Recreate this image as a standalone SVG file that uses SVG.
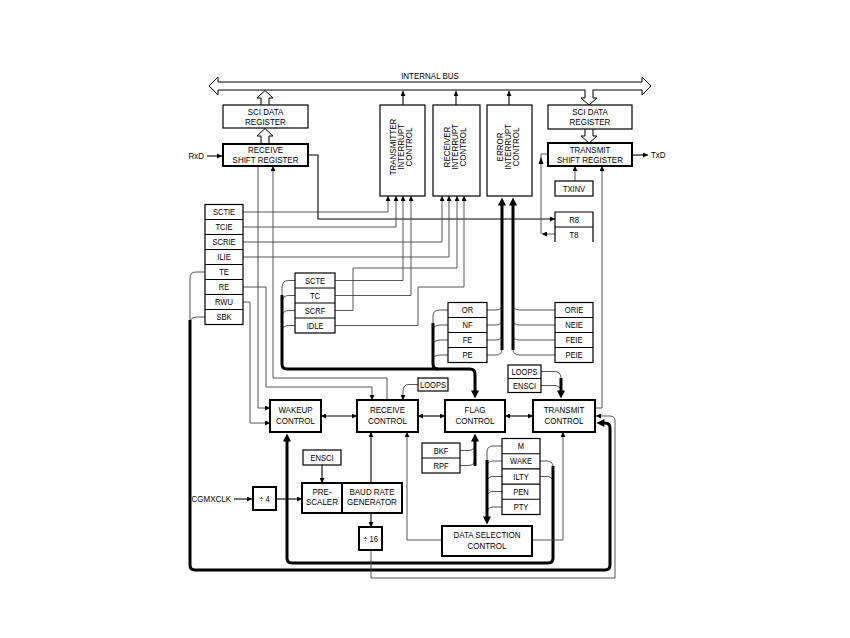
<svg xmlns="http://www.w3.org/2000/svg" width="850" height="638" viewBox="0 0 850 638">
<defs>
<marker id="a" viewBox="0 0 10 10" refX="10" refY="5" markerWidth="8" markerHeight="5" markerUnits="userSpaceOnUse" orient="auto-start-reverse"><path d="M0,0 L10,5 L0,10 z" fill="#000"/></marker>
<marker id="at" viewBox="0 0 10 10" refX="3" refY="5" markerWidth="10" markerHeight="8" markerUnits="userSpaceOnUse" orient="auto-start-reverse"><path d="M0,0 L10,5 L0,10 z" fill="#000"/></marker>
</defs>
<style>
.b{fill:#fff;stroke:#000;stroke-width:1.2}
.bb{fill:#fff;stroke:#000;stroke-width:2}
.l{fill:none;stroke:#444;stroke-width:0.9}
.lk{fill:none;stroke:#000;stroke-width:1.1}
.k{fill:none;stroke:#000;stroke-width:3}
.h{fill:#fff;stroke:#000;stroke-width:1}
.ar{marker-end:url(#a)}
.art{marker-end:url(#at)}
.dbl{marker-start:url(#a);marker-end:url(#a)}
text{font-family:"Liberation Sans",Arial,sans-serif;font-size:9.5px;text-anchor:middle;fill:#000;transform-box:fill-box;transform-origin:center;transform:scaleX(0.84)}
.s{font-size:9px}
.st{text-anchor:start;transform-origin:left center}
.en{text-anchor:end;transform-origin:right center}
</style>
<rect width="850" height="638" fill="#fff"/>

<g id="internal-bus">
<path class="h" d="M218,82 H642 V77 L651,86 L642,95 V90 H218 V95 L209,86 L218,77 Z"/>
<text x="430" y="79">INTERNAL BUS</text>
</g>

<g id="connectors">
<path class="h" d="M261,105 V98 H257 L265,90.5 L273,98 H269 V105"/>
<path class="h" d="M261,144 V136 H257 L265,128.5 L273,136 H269 V144"/>
<path fill="#fff" d="M585.5,89 V98 H592.5 V89 Z"/>
<path class="h" d="M585,90 V98 H581 L589,105 L597,98 H593 V90"/>
<path class="h" d="M585,129 V136 H581 L589,143 L597,136 H593 V129"/>
<path class="lk ar" d="M403,105 V91"/>
<path class="lk ar" d="M456,105 V91"/>
<path class="lk ar" d="M509,105 V91"/>
<path class="lk ar" d="M207,156 H222"/>
<path class="lk ar" d="M632,155 H648"/>
<path class="lk ar" d="M308,155 H318 V219 H555"/>
<path class="l ar" d="M555,234 H542"/>
<path class="l" d="M541,234 V154 H548"/>
<path d="M538.5,164 L541,157 L543.5,164 z" fill="#000"/>
<path class="l ar" d="M575,181 V166"/>
<path class="l ar" d="M595,408 H602 V166"/>
<path class="l ar" d="M243,212 H388 V196"/>
<path class="l ar" d="M243,227 H396 V196"/>
<path class="l ar" d="M243,242 H442 V196"/>
<path class="l ar" d="M243,257 H449 V196"/>
<path class="l ar" d="M335,280.5 H403 V196"/>
<path class="l ar" d="M335,295.5 H411 V196"/>
<path class="l ar" d="M335,310.5 H353 V268 H457 V196"/>
<path class="l ar" d="M335,325.5 H418 V287 H464 V196"/>
<path class="l" d="M487,310 H496 Q502,310 502,304 M487,325 H496 Q502,325 502,319 M487,340 H496 Q502,340 502,334 M487,355 H496 Q502,355 502,349"/>
<path class="k art" d="M502,350 V203"/>
<path class="l" d="M555,310 H519 Q513,310 513,304 M555,325 H519 Q513,325 513,319 M555,340 H519 Q513,340 513,334 M555,355 H519 Q513,355 513,349"/>
<path class="k art" d="M513,350 V203"/>
<path class="l" d="M295,280.5 H289 Q282,280.5 282,287 M295,295.5 H289 Q282,295.5 282,302 M295,310.5 H289 Q282,310.5 282,317 M295,325.5 H289 Q282,325.5 282,332 M282,287 V296"/>
<path class="l" d="M448,310 H440 Q433,310 433,316 M448,325 H440 Q433,325 433,331 M448,340 H440 Q433,340 433,346 M448,355 H440 Q433,355 433,361 M433,316 V324"/>
<path class="k" d="M433,323 V364 Q433,369 438,369"/>
<path class="k art" d="M282,295 V364 Q282,369 287,369 H470 Q475,369 475,374 V393"/>
<path class="l ar" d="M243,287 H266 V387 H372 V400"/>
<path class="l ar" d="M243,302 H250 V423 H270"/>
<path class="l ar" d="M258,166 V408 H270"/>
<path class="l ar" d="M387,400 V378 H273 V166"/>
<path class="l ar" d="M418,384.5 H409 Q403,384.5 403,391 V400"/>
<path class="lk dbl" d="M321,416 H357"/>
<path class="lk dbl" d="M418,416 H445"/>
<path class="lk dbl" d="M505,416 H533"/>
<path class="l" d="M541,371.5 H554 Q561,371.5 561,378 M541,385.5 H554 Q561,385.5 561,392"/>
<path class="k art" d="M561,378 V393"/>
<path class="l" d="M460,450.5 H468 Q475,450.5 475,444 M460,465.5 H468 Q475,465.5 475,459"/>
<path class="k art" d="M475,466 V439"/>
<path class="l" d="M502,446 H493 Q487,446 487,452 M502,461 H493 Q487,461 487,467 M502,476.5 H493 Q487,476.5 487,482.5 M502,491.5 H493 Q487,491.5 487,497.5 M502,507 H493 Q487,507 487,513 M487,452 V462"/>
<path class="k art" d="M487,460 V519"/>
<path class="l" d="M540,461 H547 Q553,461 553,467 M540,476.5 H547 Q553,476.5 553,482.5"/>
<path class="k art" d="M553,466 V558 Q553,563 548,563 H292 Q287,563 287,558 V439"/>
<path class="l" d="M205,272 H196 Q190,272 190,278 V322 M205,317 H197 Q190,317 190,323"/>
<path class="k art" d="M190,320 V565 Q190,570 195,570 H605 Q610,570 610,565 V428 Q610,423 605,423 H602"/>
<path class="l ar" d="M442,540 H407 V432"/>
<path class="l ar" d="M532,540 H563 V432"/>
<path class="lk ar" d="M234,499 H252"/>
<path class="lk ar" d="M276,499 H302"/>
<path class="lk ar" d="M322,465 V483"/>
<path class="lk ar" d="M371,483 V432"/>
<path class="lk ar" d="M371,513 V527"/>
<path class="l ar" d="M371,550 V578 H615 V421 Q615,416 610,416 H596"/>
</g>

<g id="sci-data-register-rx"><rect class="b" x="223" y="105" width="85" height="23"/><text x="265.5" y="115">SCI DATA</text><text x="265.5" y="125">REGISTER</text></g>
<g id="receive-shift-register"><rect class="bb" x="223" y="144" width="85" height="22"/><text x="265.5" y="153.5">RECEIVE</text><text x="265.5" y="163.5">SHIFT REGISTER</text></g>
<g id="sci-data-register-tx"><rect class="b" x="548" y="105" width="84" height="24"/><text x="590" y="115">SCI DATA</text><text x="590" y="125.5">REGISTER</text></g>
<g id="transmit-shift-register"><rect class="bb" x="548" y="143" width="84" height="23"/><text x="590" y="153">TRANSMIT</text><text x="590" y="163.5">SHIFT REGISTER</text></g>
<g id="rxd"><text class="en" x="204" y="159">RxD</text></g>
<g id="txd"><text class="st" x="651" y="158">TxD</text></g>

<g id="transmitter-interrupt-control"><rect class="b" x="380" y="105" width="45" height="91"/>
<g transform="translate(396,147) rotate(-90)"><text>TRANSMITTER</text></g>
<g transform="translate(404,147) rotate(-90)"><text>INTERRUPT</text></g>
<g transform="translate(412,147) rotate(-90)"><text>CONTROL</text></g></g>
<g id="receiver-interrupt-control"><rect class="b" x="433" y="105" width="47" height="91"/>
<g transform="translate(450,147) rotate(-90)"><text>RECEIVER</text></g>
<g transform="translate(458,147) rotate(-90)"><text>INTERRUPT</text></g>
<g transform="translate(466,147) rotate(-90)"><text>CONTROL</text></g></g>
<g id="error-interrupt-control"><rect class="b" x="487" y="105" width="45" height="91"/>
<g transform="translate(503,147) rotate(-90)"><text>ERROR</text></g>
<g transform="translate(511,147) rotate(-90)"><text>INTERRUPT</text></g>
<g transform="translate(519,147) rotate(-90)"><text>CONTROL</text></g></g>

<g id="scc-enables"><rect class="b" x="205" y="204.5" width="38" height="120"/>
<path class="lk" d="M205,219.5 H243 M205,234.5 H243 M205,249.5 H243 M205,264.5 H243 M205,279.5 H243 M205,294.5 H243 M205,309.5 H243"/>
<text class="s" x="224" y="215.5">SCTIE</text><text class="s" x="224" y="230.5">TCIE</text><text class="s" x="224" y="245.5">SCRIE</text><text class="s" x="224" y="260.5">ILIE</text>
<text class="s" x="224" y="275.5">TE</text><text class="s" x="224" y="290.5">RE</text><text class="s" x="224" y="305.5">RWU</text><text class="s" x="224" y="320.5">SBK</text></g>

<g id="status-flags"><rect class="b" x="295" y="273" width="40" height="60"/>
<path class="lk" d="M295,288 H335 M295,303 H335 M295,318 H335"/>
<text class="s" x="315" y="284">SCTE</text><text class="s" x="315" y="299">TC</text><text class="s" x="315" y="314">SCRF</text><text class="s" x="315" y="329">IDLE</text></g>

<g id="txinv"><rect class="b" x="555" y="181" width="38" height="15"/><text class="s" x="574" y="192">TXINV</text></g>
<g id="r8-t8"><path class="b" d="M555,242 V212 H593 V242" fill="#fff"/><path class="lk" d="M555,227 H593"/><text class="s" x="574" y="223">R8</text><text class="s" x="574" y="238">T8</text></g>

<g id="error-flags"><rect class="b" x="448" y="302.5" width="39" height="60"/>
<path class="lk" d="M448,317.5 H487 M448,332.5 H487 M448,347.5 H487"/>
<text class="s" x="467.5" y="313.5">OR</text><text class="s" x="467.5" y="328.5">NF</text><text class="s" x="467.5" y="343.5">FE</text><text class="s" x="467.5" y="358.5">PE</text></g>
<g id="error-enables"><rect class="b" x="555" y="302.5" width="38" height="60"/>
<path class="lk" d="M555,317.5 H593 M555,332.5 H593 M555,347.5 H593"/>
<text class="s" x="574" y="313.5">ORIE</text><text class="s" x="574" y="328.5">NEIE</text><text class="s" x="574" y="343.5">FEIE</text><text class="s" x="574" y="358.5">PEIE</text></g>

<g id="loops-rx"><rect class="b" x="418" y="378" width="30" height="13"/><text class="s" x="433" y="388">LOOPS</text></g>
<g id="loops-ensci-tx"><rect class="b" x="508" y="365" width="33" height="27.5"/><path class="lk" d="M508,378.5 H541"/><text class="s" x="524.5" y="375">LOOPS</text><text class="s" x="524.5" y="389">ENSCI</text></g>

<g id="wakeup-control"><rect class="bb" x="270" y="400" width="51" height="32"/><text x="295.5" y="413">WAKEUP</text><text x="295.5" y="424">CONTROL</text></g>
<g id="receive-control"><rect class="bb" x="357" y="400" width="61" height="32"/><text x="387.5" y="413">RECEIVE</text><text x="387.5" y="424">CONTROL</text></g>
<g id="flag-control"><rect class="bb" x="445" y="400" width="60" height="32"/><text x="475" y="413">FLAG</text><text x="475" y="424">CONTROL</text></g>
<g id="transmit-control"><rect class="bb" x="533" y="400" width="62" height="32"/><text x="564" y="413">TRANSMIT</text><text x="564" y="424">CONTROL</text></g>

<g id="bkf-rpf"><rect class="b" x="422" y="443" width="38" height="30"/><path class="lk" d="M422,458 H460"/><text class="s" x="441" y="454">BKF</text><text class="s" x="441" y="469">RPF</text></g>
<g id="format-bits"><rect class="b" x="502" y="438.5" width="38" height="76"/>
<path class="lk" d="M502,453.7 H540 M502,468.9 H540 M502,484.1 H540 M502,499.3 H540"/>
<text class="s" x="521" y="449.5">M</text><text class="s" x="521" y="464.5">WAKE</text><text class="s" x="521" y="480">ILTY</text><text class="s" x="521" y="495">PEN</text><text class="s" x="521" y="510.5">PTY</text></g>

<g id="ensci"><rect class="b" x="303" y="450" width="38" height="15"/><text class="s" x="322" y="461">ENSCI</text></g>
<g id="prescaler"><rect class="bb" x="302" y="483" width="40" height="30"/><text x="322" y="495">PRE-</text><text x="322" y="505.5">SCALER</text></g>
<g id="baud-rate-generator"><rect class="bb" x="342" y="483" width="60" height="30"/><text x="372" y="495">BAUD RATE</text><text x="372" y="505.5">GENERATOR</text></g>
<g id="div4"><rect class="bb" x="253" y="487" width="23" height="23"/><text class="s" x="264.5" y="502">÷ 4</text></g>
<g id="cgmxclk"><text class="en" x="231" y="502">CGMXCLK</text></g>
<g id="div16"><rect class="bb" x="359" y="527" width="23" height="23"/><text class="s" x="370.5" y="542">÷ 16</text></g>
<g id="data-selection-control"><rect class="bb" x="442" y="526" width="90" height="30"/><text x="487" y="538">DATA SELECTION</text><text x="487" y="549">CONTROL</text></g>
</svg>
